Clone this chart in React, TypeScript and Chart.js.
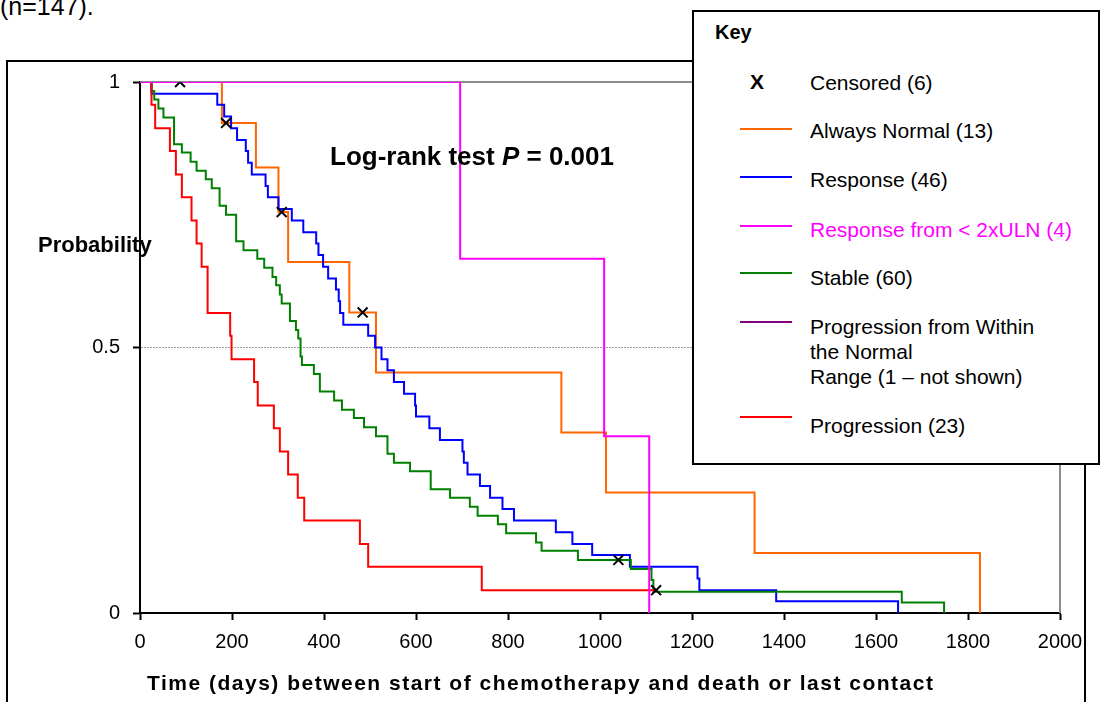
import React, { useEffect, useRef } from "react";
import { Chart, registerables } from "chart.js";

Chart.register(...registerables);

// ---- Data (days, survival probability) ----
const alwaysNormalDays = [0, 178, 252, 301, 322, 455, 513, 916, 1013, 1336, 1826];
const alwaysNormalSurv = [1, 0.923, 0.839, 0.755, 0.661, 0.566, 0.453, 0.34, 0.227, 0.113, 0];

const responseDays = [0, 25, 168, 183, 198, 211, 230, 235, 243, 273, 278, 301, 330, 355, 383, 388, 398, 409, 426, 432, 435, 442, 496, 511, 525, 538, 552, 574, 598, 600, 629, 652, 701, 704, 712, 739, 761, 788, 813, 904, 940, 983, 1065, 1212, 1216, 1383, 1648];
const responseSurv = [1, 0.978, 0.957, 0.935, 0.913, 0.891, 0.87, 0.848, 0.826, 0.804, 0.783, 0.761, 0.739, 0.717, 0.696, 0.674, 0.652, 0.63, 0.609, 0.587, 0.565, 0.543, 0.522, 0.5, 0.478, 0.457, 0.435, 0.413, 0.391, 0.37, 0.348, 0.326, 0.304, 0.283, 0.261, 0.239, 0.217, 0.196, 0.174, 0.152, 0.13, 0.109, 0.087, 0.065, 0.043, 0.022, 0];

const responseLowDays = [0, 696, 1009, 1107];
const responseLowSurv = [1, 0.667, 0.333, 0];

const stableDays = [0, 25, 31, 40, 51, 74, 91, 110, 123, 143, 156, 173, 187, 209, 225, 255, 270, 288, 296, 304, 308, 326, 339, 344, 349, 352, 378, 391, 422, 439, 465, 487, 513, 538, 552, 587, 632, 674, 717, 734, 778, 796, 861, 873, 952, 1067, 1112, 1116, 1656, 1748];
const stableSurv = [1, 0.983, 0.967, 0.95, 0.933, 0.883, 0.867, 0.85, 0.833, 0.817, 0.8, 0.767, 0.75, 0.7, 0.683, 0.667, 0.65, 0.633, 0.617, 0.6, 0.583, 0.55, 0.533, 0.517, 0.483, 0.467, 0.45, 0.417, 0.4, 0.383, 0.367, 0.35, 0.333, 0.3, 0.283, 0.267, 0.233, 0.217, 0.2, 0.183, 0.167, 0.15, 0.133, 0.117, 0.1, 0.083, 0.062, 0.04, 0.02, 0];

const progressionDays = [0, 25, 33, 65, 78, 91, 112, 123, 134, 147, 196, 199, 248, 256, 291, 304, 322, 343, 357, 478, 496, 743, 1120];
const progressionSurv = [1, 0.957, 0.913, 0.87, 0.826, 0.783, 0.739, 0.696, 0.652, 0.565, 0.522, 0.478, 0.435, 0.391, 0.348, 0.304, 0.261, 0.217, 0.174, 0.13, 0.087, 0.043, 0.043];

const censoredDays = [87, 187, 308, 484, 1040, 1122];
const censoredSurv = [1, 0.923, 0.755, 0.566, 0.1, 0.043];

const xMin = 0;
const xMax = 2000;
const xStep = 200;
const yTickValues = [0, 0.5, 1];

const FONT = "'Liberation Sans', Arial, Helvetica, sans-serif";

const toPoints = (xs: number[], ys: number[]) => xs.map((x, i) => ({ x, y: ys[i] }));

const framePlugin = {
  id: "plotFrame",
  beforeDatasetsDraw(chart: any) {
    const { ctx, chartArea } = chart;
    const { left, top, right, bottom } = chartArea;
    ctx.save();
    ctx.strokeStyle = "#8c8c8c";
    ctx.lineWidth = 2;
    ctx.beginPath();
    ctx.moveTo(left, top);
    ctx.lineTo(right, top);
    ctx.lineTo(right, bottom);
    ctx.stroke();
    ctx.restore();
  },
};

const abs = (o: React.CSSProperties): React.CSSProperties => ({ position: "absolute", margin: 0, whiteSpace: "nowrap", ...o });

export default function App() {
  const ref = useRef<HTMLCanvasElement>(null);

  useEffect(() => {
    document.body.style.overflow = "hidden";
    const lineDs = (label: string, xs: number[], ys: number[], color: string, order: number) => ({
      label,
      data: toPoints(xs, ys),
      borderColor: color,
      backgroundColor: color,
      borderWidth: 2,
      stepped: "before" as const,
      pointRadius: 0,
      fill: false,
      order,
    });
    const chart = new Chart(ref.current as HTMLCanvasElement, {
      type: "line",
      data: {
        datasets: [
          lineDs("Always Normal (13)", alwaysNormalDays, alwaysNormalSurv, "#FF6600", 6),
          lineDs("Response (46)", responseDays, responseSurv, "#0000FF", 5),
          lineDs("Stable (60)", stableDays, stableSurv, "#008000", 4),
          lineDs("Progression (23)", progressionDays, progressionSurv, "#FF0000", 3),
          lineDs("Response from < 2xULN (4)", responseLowDays, responseLowSurv, "#FF00FF", 2),
          {
            label: "Censored (6)",
            data: toPoints(censoredDays, censoredSurv),
            showLine: false,
            pointStyle: "crossRot",
            pointRadius: 7,
            pointBorderWidth: 2,
            borderColor: "#000",
            backgroundColor: "#000",
            order: 1,
          } as any,
        ],
      },
      options: {
        animation: false,
        responsive: false,
        devicePixelRatio: 1,
        layout: { padding: { left: 80, right: 41, top: 82, bottom: 39 } },
        plugins: { legend: { display: false }, tooltip: { enabled: false } },
        elements: { line: { tension: 0 } },
        scales: {
          x: {
            type: "linear",
            min: xMin,
            max: xMax,
            afterFit: (s: any) => {
              s.height = 50;
            },
            ticks: {
              stepSize: xStep,
              color: "#000",
              padding: 10,
              font: { family: FONT, size: 20 },
              callback: (v: any) => String(v),
            },
            grid: {
              drawOnChartArea: false,
              drawTicks: true,
              tickLength: 7,
              tickColor: "#000",
              tickWidth: 2,
            },
            border: { color: "#000", width: 2 },
          },
          y: {
            type: "linear",
            min: 0,
            max: 1,
            afterFit: (s: any) => {
              s.width = 60;
            },
            afterBuildTicks: (s: any) => {
              s.ticks = yTickValues.map((v) => ({ value: v }));
            },
            ticks: {
              color: "#000",
              padding: 13,
              font: { family: FONT, size: 20 },
              callback: (v: any) => String(v),
            },
            grid: {
              color: (c: any) => (c.tick && c.tick.value === 0.5 ? "#9a9a9a" : "rgba(0,0,0,0)"),
              lineWidth: 1,
              tickLength: 7,
              tickColor: "#000",
              tickWidth: 2,
            },
            border: { color: "#000", width: 2, dash: [2, 1] },
          },
        },
      } as any,
      plugins: [framePlugin],
    });
    return () => chart.destroy();
  }, []);

  const legendLine = (top: number, color: string) => (
    <div style={abs({ left: 46, top, width: 52, height: 2, background: color })} />
  );
  const legendText = (top: number, text: React.ReactNode, color = "#000") => (
    <div style={abs({ left: 116, top, fontSize: 21, lineHeight: "25px", color, fontFamily: FONT })}>{text}</div>
  );

  return (
    <div style={abs({ left: 0, top: 0, width: 1101, height: 702, overflow: "hidden", background: "#fff", fontFamily: FONT })}>
      <div style={abs({ left: 0, top: -6, fontSize: 25, lineHeight: "25px", color: "#000" })}>(n=147).</div>
      <div
        style={abs({
          left: 6,
          top: 60,
          width: 1080,
          height: 642,
          border: "2px solid #000",
          borderBottom: "none",
          boxSizing: "border-box",
        })}
      />
      <canvas ref={ref} width={1101} height={702} style={abs({ left: 0, top: 0, width: 1101, height: 702 })} />
      <div style={abs({ left: 38, top: 234, fontSize: 22, lineHeight: "22px", fontWeight: "bold", color: "#000" })}>Probability</div>
      <div style={abs({ left: 330, top: 143, fontSize: 26, lineHeight: "26px", fontWeight: "bold", color: "#000" })}>
        Log-rank test <i>P</i> = 0.001
      </div>
      <div
        style={abs({ left: 147, top: 672, fontSize: 21, lineHeight: "21px", fontWeight: "bold", letterSpacing: "1.5px", color: "#000" })}
      >
        Time (days) between start of chemotherapy and death or last contact
      </div>
      <div
        style={abs({
          left: 692,
          top: 10,
          width: 408,
          height: 455,
          border: "2px solid #000",
          boxSizing: "border-box",
          background: "#fff",
          color: "#000",
        })}
      >
        <div style={abs({ left: 21, top: 10, fontSize: 20, lineHeight: "20px", fontWeight: "bold" })}>Key</div>
        <div style={abs({ left: 56, top: 59, fontSize: 21, lineHeight: "21px", fontWeight: "bold" })}>X</div>
        {legendText(58, "Censored (6)")}
        {legendLine(116, "#FF6600")}
        {legendText(106, "Always Normal (13)")}
        {legendLine(164, "#0000FF")}
        {legendText(155, "Response (46)")}
        {legendLine(213, "#FF00FF")}
        {legendText(205, "Response from < 2xULN (4)", "#FF00FF")}
        {legendLine(260, "#008000")}
        {legendText(253, "Stable (60)")}
        {legendLine(309, "#800080")}
        {legendText(
          302,
          <>
            Progression from Within
            <br />
            the Normal
            <br />
            Range (1 – not shown)
          </>
        )}
        {legendLine(404, "#FF0000")}
        {legendText(401, "Progression (23)")}
      </div>
    </div>
  );
}
